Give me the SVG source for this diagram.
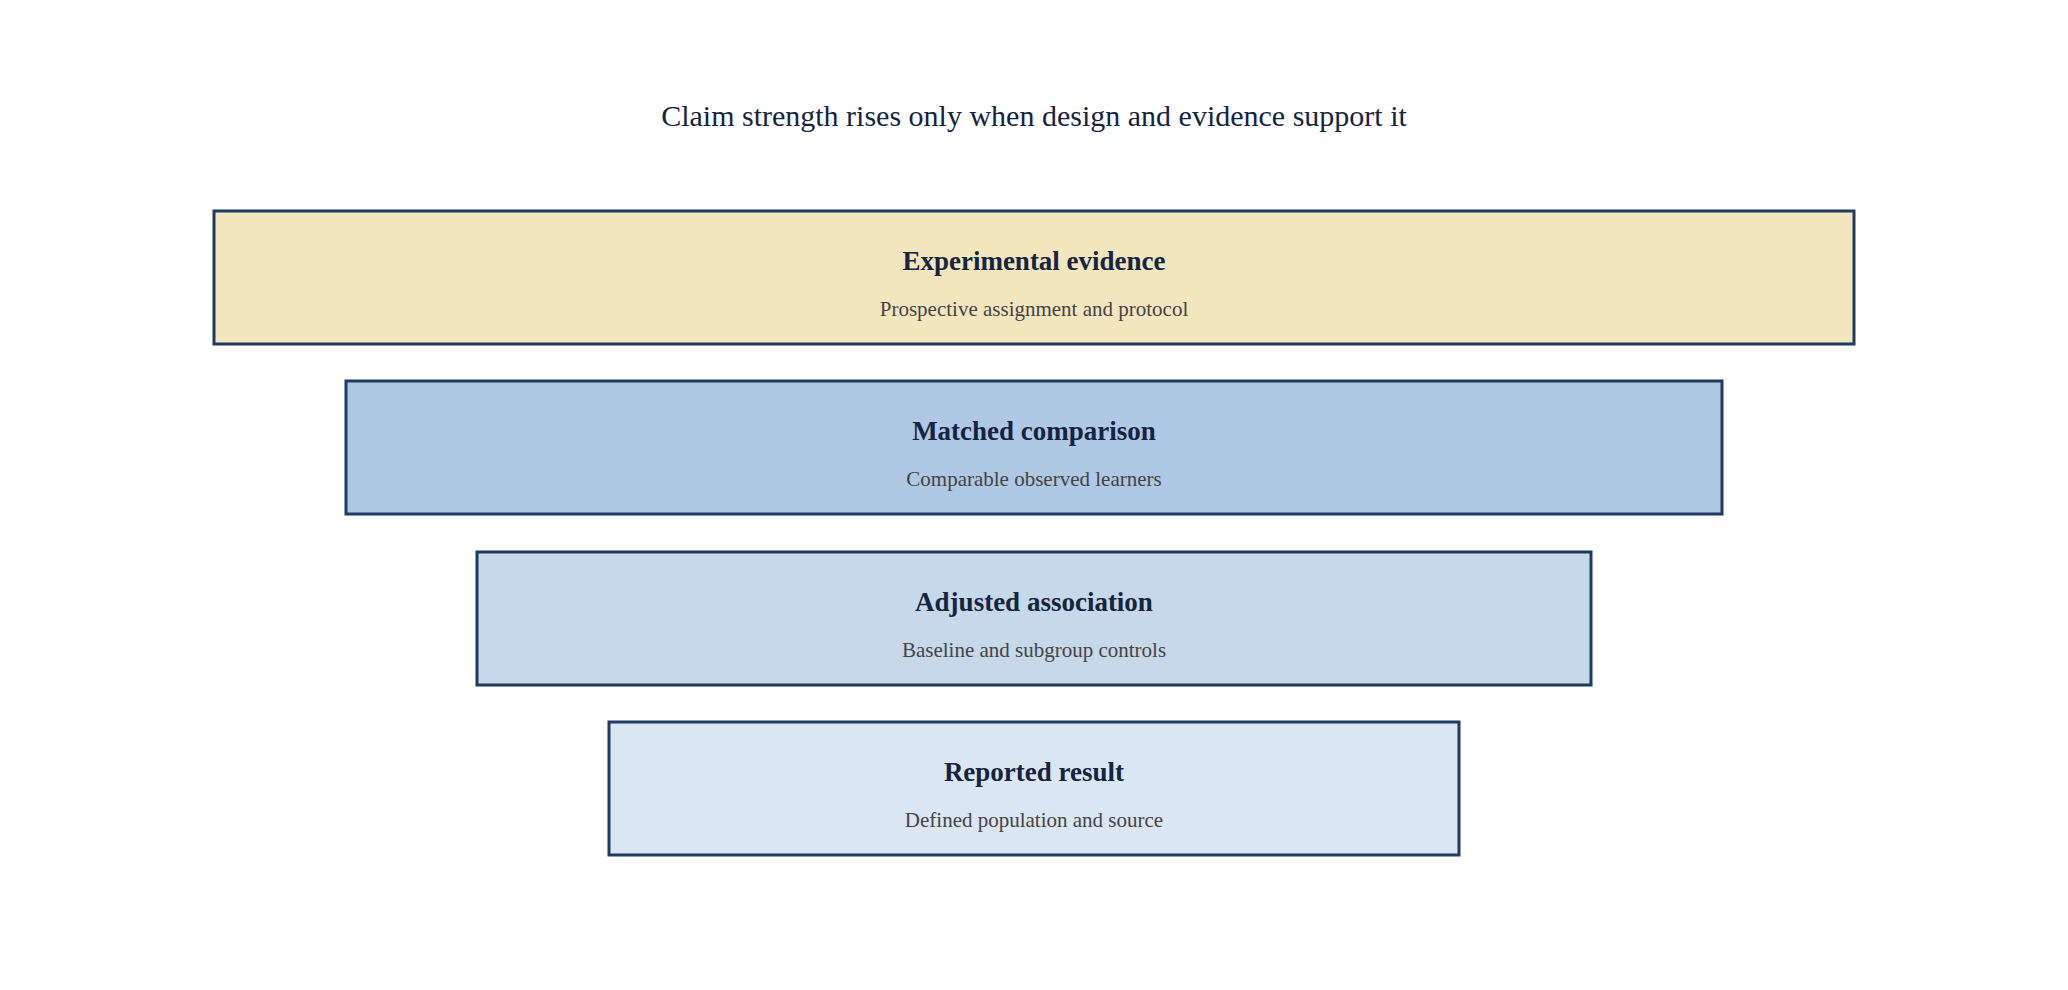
<svg xmlns="http://www.w3.org/2000/svg" width="2068" height="990" viewBox="0 0 2068 990">
<style>
.box{stroke:#1f3a63;stroke-width:3}
.h{font-family:"Liberation Serif",serif;font-weight:bold;font-size:27px;fill:#15243f;text-anchor:middle}
.s{font-family:"Liberation Serif",serif;font-size:21px;fill:#444;text-anchor:middle}
.t{font-family:"Liberation Serif",serif;font-size:30px;fill:#15243f;text-anchor:middle}
</style>
<rect width="2068" height="990" fill="#fff"/>
<text class="t" x="1034" y="126">Claim strength rises only when design and evidence support it</text>
<g id="experimental"><rect class="box" x="214" y="211" width="1640" height="133" fill="#f2e6bf"/><text class="h" x="1034" y="270">Experimental evidence</text><text class="s" x="1034" y="316">Prospective assignment and protocol</text></g>
<g id="matched"><rect class="box" x="346" y="381" width="1376" height="133" fill="#afc8e3"/><text class="h" x="1034" y="440">Matched comparison</text><text class="s" x="1034" y="486">Comparable observed learners</text></g>
<g id="adjusted"><rect class="box" x="477" y="552" width="1114" height="133" fill="#c7d8ea"/><text class="h" x="1034" y="611">Adjusted association</text><text class="s" x="1034" y="657">Baseline and subgroup controls</text></g>
<g id="reported"><rect class="box" x="609" y="722" width="850" height="133" fill="#dae6f2"/><text class="h" x="1034" y="781">Reported result</text><text class="s" x="1034" y="827">Defined population and source</text></g>
<g id="connectors"/>
</svg>
